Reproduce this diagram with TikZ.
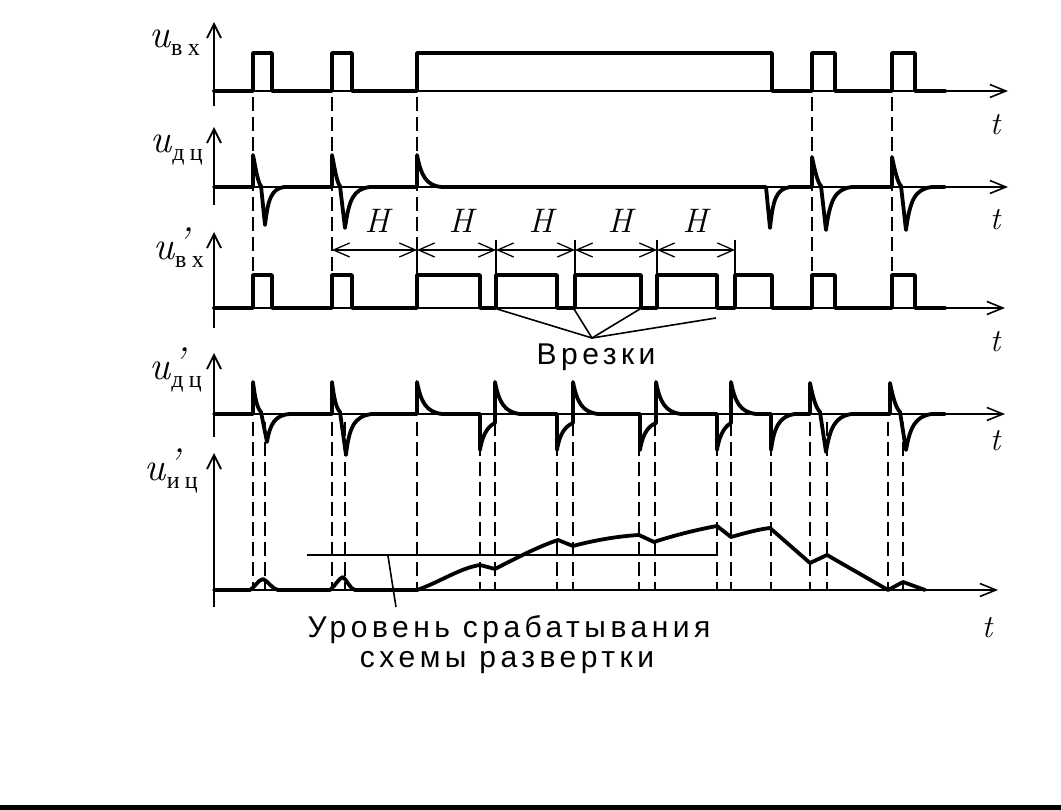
\documentclass[tikz,border=0pt]{standalone}
\usepackage{fontspec}
\usetikzlibrary{arrows.meta}
\newfontfamily\rusfont[LetterSpace=15]{Liberation Sans}
\newfontfamily\subfont[LetterSpace=22]{Liberation Serif}
\newcommand\ulabel[2]{{\fontsize{40}{44}\selectfont\itshape u#1}\kern1pt\raisebox{-8pt}{\subfont\fontsize{24}{26}\selectfont #2}}
\newcommand\uprime{\rlap{\kern2pt\raisebox{4pt}{’}}}
\tikzset{
  sig/.style={line width=3.8pt, line join=round, line cap=round},
  vaxis/.style={line width=1.8pt, -{Straight Barb[length=14pt,width=14pt,line width=1.8pt]}},
  taxis/.style={line width=1.6pt, -{Straight Barb[length=16pt,width=13pt,line width=1.6pt]}},
  guide/.style={line width=2.6pt, dash pattern=on 14pt off 6pt},
  marker/.style={line width=2.2pt},
  harrow/.style={line width=1.3pt, {Straight Barb[length=16pt,width=14pt,line width=1.3pt]}-{Straight Barb[length=16pt,width=14pt,line width=1.3pt]}},
  leader/.style={line width=1.6pt},
  lab/.style={inner sep=0pt, anchor=base east},
  tlab/.style={inner sep=0pt, anchor=base, font=\fontsize{32}{34}\selectfont\itshape},
  hlab/.style={inner sep=0pt, anchor=base, font=\fontsize{34}{36}\selectfont\itshape},
  rus/.style={inner sep=0pt, anchor=base, font=\rusfont\fontsize{30}{32}\selectfont}
}
\begin{document}
\begin{tikzpicture}[x=1pt,y=-1pt]
\fill[white] (0,0) rectangle (1061,810);
\useasboundingbox (0,0) rectangle (1061,810);

% ---------- axes ----------
\draw[vaxis] (214,106) -- (214,22);
\draw[vaxis] (214,205) -- (214,127);
\draw[vaxis] (214,328) -- (214,232);
\draw[vaxis] (214,437) -- (214,353);
\draw[vaxis] (214,607) -- (214,453);
\draw[taxis] (214,91) -- (1008,91);
\draw[taxis] (214,187) -- (1008,187);
\draw[taxis] (214,308) -- (1005,308);
\draw[taxis] (214,414) -- (1005,414);
\draw[taxis] (214,590) -- (998,590);

% ---------- axis labels ----------
\node[lab] (l1) at (200,48) {\ulabel{}{вх}};
\node[lab] (l2) at (203,153) {\ulabel{}{дц}};
\node[lab] (l3) at (204,260) {\ulabel{\uprime}{вх}};
\node[lab] (l4) at (202,380) {\ulabel{\uprime}{дц}};
\node[lab] (l5) at (198,480) {\ulabel{\uprime}{иц}};

\node[tlab] (t1) at (995,135) {t};
\node[tlab] (t2) at (995,230) {t};
\node[tlab] (t3) at (995,352) {t};
\node[tlab] (t4) at (995,450) {t};
\node[tlab] (t5) at (987,637) {t};

% ---------- row 1 : u_vx ----------
\draw[sig] (214,91) -- (253,91) -- (253,53) -- (272,53) -- (272,91) -- (332,91) -- (332,53) -- (352,53) -- (352,91)
  -- (417,91) -- (417,53) -- (772,53) -- (772,91) -- (812,91) -- (812,53) -- (835,53) -- (835,91)
  -- (892,91) -- (892,53) -- (915,53) -- (915,91) -- (945,91);

% ---------- row 2 : u_dc ----------
\draw[sig] (214,187) -- (253,187) -- (253,155) .. controls (256,170) and (258,183) .. (261,186)
  -- (265,225) .. controls (268,200) and (271,189) .. (284,187)
  -- (332,187) -- (332,155) .. controls (335,170) and (337,183) .. (340,186)
  -- (345,228) .. controls (349,200) and (353,189) .. (370,187)
  -- (417,187) -- (417,155) .. controls (421,175) and (426,186) .. (442,187)
  -- (766,187) -- (770,228) .. controls (773,200) and (776,189) .. (790,187)
  -- (812,187) -- (812,157) .. controls (815,172) and (818,183) .. (821,186)
  -- (826,230) .. controls (830,200) and (835,189) .. (852,187)
  -- (892,187) -- (892,157) .. controls (895,172) and (898,183) .. (901,186)
  -- (906,230) .. controls (910,200) and (915,189) .. (932,187) -- (945,187);

% ---------- row 3 : u'_vx ----------
\draw[sig] (214,308) -- (253,308) -- (253,275) -- (272,275) -- (272,308) -- (332,308) -- (332,275) -- (352,275) -- (352,308)
  -- (417,308) -- (417,275) -- (480,275) -- (480,308) -- (496,308) -- (496,275) -- (557,275) -- (557,308)
  -- (575,308) -- (575,275) -- (641,275) -- (641,308) -- (657,308) -- (657,275) -- (717,275) -- (717,308)
  -- (735,308) -- (735,275) -- (772,275) -- (772,308) -- (812,308) -- (812,275) -- (835,275) -- (835,308)
  -- (892,308) -- (892,275) -- (915,275) -- (915,308) -- (945,308);

% ---------- row 4 : u'_dc ----------
\draw[sig] (214,414) -- (253,414) -- (253,382) .. controls (255,398) and (257,408) .. (261,412)
  -- (267,442) .. controls (270,424) and (275,415) .. (290,414)
  -- (332,414) -- (332,382) .. controls (334,398) and (336,408) .. (340,412)
  -- (346,455) .. controls (349,428) and (354,416) .. (372,414)
  -- (417,414) -- (417,382) .. controls (421,402) and (426,412) .. (442,414)
  -- (480,414) -- (480,450) .. controls (483,432) and (489,426) .. (495,423)
  -- (495,382) .. controls (499,402) and (504,412) .. (520,414)
  -- (557,414) -- (557,450) .. controls (560,432) and (566,426) .. (573,423)
  -- (573,382) .. controls (577,402) and (582,412) .. (598,414)
  -- (640,414) -- (640,450) .. controls (643,432) and (649,426) .. (656,423)
  -- (656,382) .. controls (660,402) and (665,412) .. (681,414)
  -- (717,414) -- (717,450) .. controls (720,432) and (726,426) .. (731,423)
  -- (731,382) .. controls (735,402) and (740,412) .. (756,414)
  -- (771,414) -- (771,450) .. controls (774,428) and (779,416) .. (795,414)
  -- (810,414) -- (810,383) .. controls (813,398) and (816,408) .. (820,412)
  -- (826,452) .. controls (830,428) and (835,416) .. (852,414)
  -- (890,414) -- (890,383) .. controls (893,398) and (896,408) .. (900,412)
  -- (906,450) .. controls (910,428) and (915,416) .. (932,414) -- (945,414);

% ---------- row 5 : u'_ic ----------
\draw[leader] (307,555) -- (716,555);
\draw[sig] (214,590) -- (250,590) .. controls (255,587) and (258,580) .. (263,579) .. controls (268,581) and (272,589) .. (278,590)
  -- (330,590) .. controls (335,586) and (339,578) .. (343,577) .. controls (347,580) and (350,589) .. (355,590)
  -- (417,590) .. controls (440,582) and (460,568) .. (480,565) -- (495,569)
  .. controls (520,556) and (540,546) .. (558,540) -- (573,546)
  .. controls (595,540) and (620,536) .. (639,535) -- (654,542)
  .. controls (675,535) and (700,529) .. (717,526) -- (731,537)
  .. controls (745,533) and (760,529) .. (770,528) -- (810,563) -- (827,555) -- (888,590) -- (903,582) -- (925,590);

% ---------- guide lines ----------
\foreach \gx in {253,332,812,892} \draw[guide] (\gx,97) -- (\gx,273);
\draw[guide] (417,97) -- (417,240);
\foreach \gx in {253,265,332,345,417,480,495,557,573,639,655,717,731,771,810,827,888,903}
  \draw[guide] (\gx,422) -- (\gx,590);

% ---------- H markers ----------
\coordinate (m0) at (332,250);
\coordinate (m1) at (417,250);
\coordinate (m2) at (496,250);
\coordinate (m3) at (575,250);
\coordinate (m4) at (657,250);
\coordinate (m5) at (735,250);
\foreach \mx in {417,496,575,657,735} \draw[marker] (\mx,240) -- (\mx,308);
\draw[harrow] (m0) -- (m1);
\draw[harrow] (m1) -- (m2);
\draw[harrow] (m2) -- (m3);
\draw[harrow] (m3) -- (m4);
\draw[harrow] (m4) -- (m5);
\node[hlab] (h1) at (377,233) {H};
\node[hlab] (h2) at (461,233) {H};
\node[hlab] (h3) at (541,233) {H};
\node[hlab] (h4) at (620,233) {H};
\node[hlab] (h5) at (695,233) {H};

% ---------- Vrezki ----------
\coordinate (vz) at (592,338);
\coordinate (c1) at (497,309);
\coordinate (c2) at (574,309);
\coordinate (c3) at (640,309);
\coordinate (c4) at (716,318);
\draw[leader] (vz) -- (c1);
\draw[leader] (vz) -- (c2);
\draw[leader] (vz) -- (c3);
\draw[leader] (vz) -- (c4);
\node[rus] (vrezki) at (596,365) {Врезки};

% ---------- level label ----------
\coordinate (lv) at (388,556);
\coordinate (lp) at (396,607);
\draw[leader] (lv) -- (lp);
\node[rus] (lev1) at (509,637) {Уровень срабатывания};
\node[rus] (lev2) at (507,667) {схемы развертки};

% bottom edge bar
\fill[black] (0,805) rectangle (1061,810);
\end{tikzpicture}
\end{document}
